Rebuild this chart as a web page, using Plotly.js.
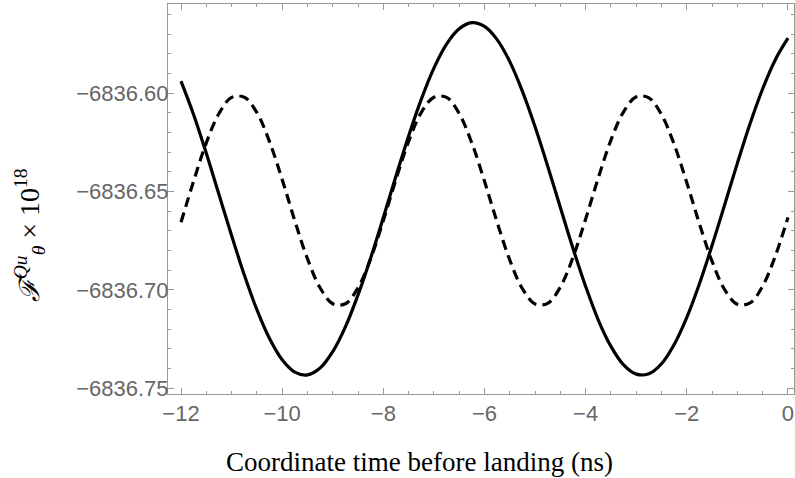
<!DOCTYPE html>
<html>
<head>
<meta charset="utf-8">
<script src="https://cdn.plot.ly/plotly-3.0.1.min.js"></script>
<style>html,body{margin:0;padding:0;background:#fff;}#chart{width:795px;height:478px;}</style>
</head>
<body>
<div id="chart"></div>
<script>
// Coordinate time before landing (ns)
const timeNs = [-12, -11.75, -11.5, -11.25, -11, -10.75, -10.5, -10.25, -10, -9.75, -9.5, -9.25, -9,
  -8.75, -8.5, -8.25, -8, -7.75, -7.5, -7.25, -7, -6.75, -6.5, -6.25, -6, -5.75, -5.5, -5.25, -5,
  -4.75, -4.5, -4.25, -4, -3.75, -3.5, -3.25, -3, -2.75, -2.5, -2.25, -2, -1.75, -1.5, -1.25, -1,
  -0.75, -0.5, -0.25, 0];
// Solid curve values (x 10^18)
const solidSeries = [-6836.5938, -6836.6109, -6836.6305, -6836.6514, -6836.6723, -6836.6923, -6836.7100,
  -6836.7247, -6836.7355, -6836.7418, -6836.7432, -6836.7397, -6836.7314, -6836.7188, -6836.7025,
  -6836.6837, -6836.6632, -6836.6421, -6836.6217, -6836.6031, -6836.5872, -6836.5750, -6836.5672,
  -6836.5641, -6836.5660, -6836.5727, -6836.5839, -6836.5990, -6836.6170, -6836.6371, -6836.6581,
  -6836.6789, -6836.6982, -6836.7153, -6836.7287, -6836.7381, -6836.7428, -6836.7426, -6836.7375,
  -6836.7277, -6836.7139, -6836.6968, -6836.6773, -6836.6565, -6836.6355, -6836.6155, -6836.5977,
  -6836.5829, -6836.5720];
// Dashed curve values (x 10^18)
const dashedSeries = [-6836.6656, -6836.6446, -6836.6252, -6836.6103, -6836.6021, -6836.6020, -6836.6098,
  -6836.6246, -6836.6438, -6836.6648, -6836.6841, -6836.6989, -6836.7070, -6836.7070, -6836.6989,
  -6836.6841, -6836.6647, -6836.6438, -6836.6245, -6836.6098, -6836.6020, -6836.6021, -6836.6103,
  -6836.6253, -6836.6447, -6836.6656, -6836.6848, -6836.6994, -6836.7071, -6836.7068, -6836.6985,
  -6836.6834, -6836.6639, -6836.6430, -6836.6238, -6836.6094, -6836.6018, -6836.6023, -6836.6108,
  -6836.6260, -6836.6455, -6836.6664, -6836.6855, -6836.6999, -6836.7073, -6836.7066, -6836.6980,
  -6836.6827, -6836.6631];
const xTitle = 'Coordinate time before landing (ns)';
const yTitle = '<i>ℱ</i><sup><i>Qu</i></sup><sub><i>θ</i></sub> × 10<sup>18</sup>';

const traces = [
  {x: timeNs, y: solidSeries, type: 'scatter', mode: 'lines', name: 'solid',
   line: {color: '#000', width: 3.2, shape: 'spline', smoothing: 1}},
  {x: timeNs, y: dashedSeries, type: 'scatter', mode: 'lines', name: 'dashed',
   line: {color: '#000', width: 3.2, dash: '10px,6px', shape: 'spline', smoothing: 1}}
];
const frame = '#9a9a9a';
const tickFont = {family: 'Liberation Sans, Arial, sans-serif', size: 22, color: '#666'};
const layout = {
  width: 795, height: 478,
  margin: {l: 168, r: 1, t: 4, b: 84},
  paper_bgcolor: '#fff', plot_bgcolor: '#fff',
  showlegend: false,
  xaxis: {
    range: [-12.257, 0.119], showgrid: false, zeroline: false,
    showline: true, linecolor: frame, linewidth: 1, mirror: 'allticks',
    ticks: 'inside', ticklen: 6, tickcolor: frame, tickwidth: 1,
    tick0: 0, dtick: 2, tickfont: tickFont,
    minor: {dtick: 0.5, ticks: 'inside', ticklen: 3, tickcolor: frame, showgrid: false}
  },
  yaxis: {
    range: [-6836.7529, -6836.5546], showgrid: false, zeroline: false,
    showline: true, linecolor: frame, linewidth: 1, mirror: 'allticks',
    ticks: 'inside', ticklen: 6, tickcolor: frame, tickwidth: 1,
    tick0: -6836.60, dtick: 0.05, tickformat: '.2f', tickfont: tickFont,
    ticklabelstandoff: -6,
    minor: {dtick: 0.01, ticks: 'inside', ticklen: 3, tickcolor: frame, showgrid: false}
  },
  annotations: [
    {text: xTitle, xref: 'paper', yref: 'paper', x: 0.401, y: -0.174, xanchor: 'center', yanchor: 'middle',
     showarrow: false, font: {family: 'Liberation Serif, Times New Roman, serif', size: 27, color: '#000'}},
    {text: yTitle, xref: 'paper', yref: 'paper', x: -0.221, y: 0.406, xanchor: 'center', yanchor: 'middle',
     textangle: -90, showarrow: false, font: {family: 'Liberation Serif, Times New Roman, serif', size: 28, color: '#000'}}
  ]
};
Plotly.newPlot('chart', traces, layout, {displayModeBar: false, staticPlot: true});
</script>
</body>
</html>
